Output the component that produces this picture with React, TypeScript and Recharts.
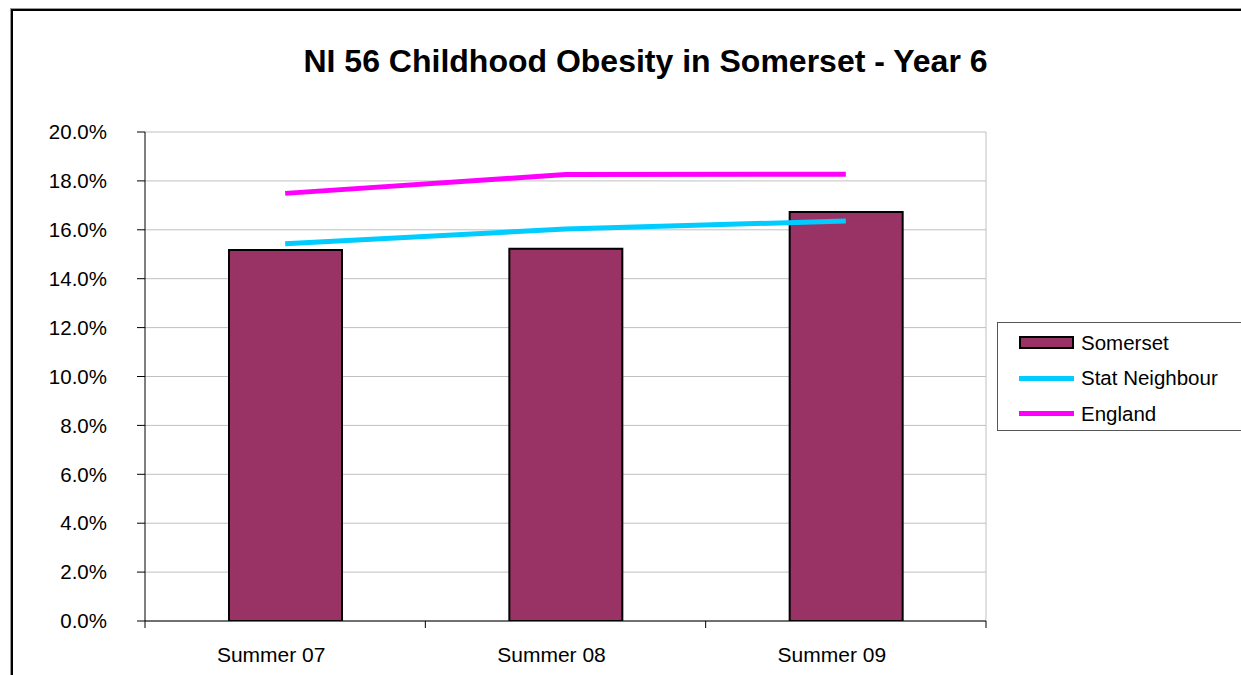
import React from 'react'
import {
  ComposedChart,
  Bar,
  Line,
  XAxis,
  YAxis,
  CartesianGrid,
  Legend,
} from 'recharts'

const categories = ['Summer 07', 'Summer 08', 'Summer 09']
const somerset = [0.1517, 0.1523, 0.1673]
const statNeighbour = [0.1543, 0.1603, 0.1636]
const england = [0.1749, 0.1826, 0.1827]
const yTicks = [0, 0.02, 0.04, 0.06, 0.08, 0.1, 0.12, 0.14, 0.16, 0.18, 0.2]

const FONT = 'Arial, "Liberation Sans", sans-serif'

const series = [
  { key: 'Somerset', color: '#993366', type: 'bar' },
  { key: 'Stat Neighbour', color: '#00CCFF', type: 'line' },
  { key: 'England', color: '#FF00FF', type: 'line' },
]

const chartData = categories.map((name, i) => ({
  name,
  Somerset: somerset[i],
  'Stat Neighbour': statNeighbour[i],
  England: england[i],
}))

// category label near the middle, tick marks on band edges like Excel
const CategoryTick = (props: any) => {
  const { x, y, payload, index, visibleTicksCount } = props
  const half = payload.offset || 0
  return (
    <g>
      <line x1={x - half} y1={y} x2={x - half} y2={y + 7} stroke="#000" />
      {index === visibleTicksCount - 1 && (
        <line x1={x + half} y1={y} x2={x + half} y2={y + 7} stroke="#000" />
      )}
      <text x={x - 14} y={y + 41} textAnchor="middle" fontSize={21} fontFamily={FONT} fill="#000">
        {payload.value}
      </text>
    </g>
  )
}

const LegendBox = () => (
  <div
    style={{
      width: 260,
      height: 109,
      border: '1px solid #555',
      background: '#fff',
      boxSizing: 'border-box',
      paddingTop: 2,
      fontFamily: FONT,
      fontSize: 20.5,
      color: '#000',
    }}
  >
    {series.map(s => (
      <div key={s.key} style={{ display: 'flex', alignItems: 'center', height: 35.5 }}>
        <div style={{ width: 21 }} />
        {s.type === 'bar' ? (
          <div
            style={{
              width: 55,
              height: 13,
              background: s.color,
              border: '2px solid #000',
              boxSizing: 'border-box',
            }}
          />
        ) : (
          <div style={{ width: 55, height: 5, background: s.color }} />
        )}
        <span style={{ marginLeft: 7 }}>{s.key}</span>
      </div>
    ))}
  </div>
)

export default function App() {
  return (
    <div
      style={{
        position: 'absolute',
        left: 0,
        top: 0,
        width: 1241,
        height: 675,
        overflow: 'hidden',
        background: '#fff',
      }}
    >
      <div
        style={{
          position: 'absolute',
          left: 11,
          top: 9,
          width: 1400,
          height: 800,
          borderLeft: '2px solid #000',
          borderTop: '2px solid #000',
          boxShadow: '-1px -1px 0 #999',
        }}
      />
      <div
        style={{
          position: 'absolute',
          left: 0,
          width: 1291,
          top: 43,
          textAlign: 'center',
          fontFamily: FONT,
          fontWeight: 'bold',
          fontSize: 32,
          color: '#000',
        }}
      >
        NI 56 Childhood Obesity in Somerset - Year 6
      </div>
      <div style={{ position: 'absolute', left: 0, top: 0 }}>
        <ComposedChart
          width={1241}
          height={675}
          data={chartData}
          margin={{ top: 132, right: 255, left: 0, bottom: 0 }}
        >
          <CartesianGrid
            stroke="#C0C0C0"
            vertical
            verticalCoordinatesGenerator={({ offset }: any) => [offset.left + offset.width]}
          />
          <XAxis
            dataKey="name"
            height={54}
            axisLine={{ stroke: '#000' }}
            tickLine={false}
            tickSize={0}
            tickMargin={0}
            tick={<CategoryTick />}
            interval={0}
          />
          <YAxis
            width={145}
            domain={[0, 0.2]}
            ticks={yTicks}
            allowDataOverflow
            tickFormatter={(v: number) => (v * 100).toFixed(1) + '%'}
            axisLine={{ stroke: '#000' }}
            tickLine={{ stroke: '#000' }}
            tickSize={8}
            tickMargin={30}
            tick={{ fontSize: 20.5, fontFamily: FONT, fill: '#000' }}
          />
          <Legend
            layout="horizontal"
            verticalAlign="middle"
            align="center"
            wrapperStyle={{ left: 997, top: 322, width: 260, height: 109 }}
            content={() => <LegendBox />}
          />
          <Bar
            dataKey="Somerset"
            fill="#993366"
            stroke="#000"
            strokeWidth={2}
            barSize={113}
            isAnimationActive={false}
          />
          <Line
            dataKey="Stat Neighbour"
            type="linear"
            stroke="#00CCFF"
            strokeWidth={5}
            dot={false}
            activeDot={false}
            isAnimationActive={false}
          />
          <Line
            dataKey="England"
            type="linear"
            stroke="#FF00FF"
            strokeWidth={5}
            dot={false}
            activeDot={false}
            isAnimationActive={false}
          />
        </ComposedChart>
      </div>
    </div>
  )
}
